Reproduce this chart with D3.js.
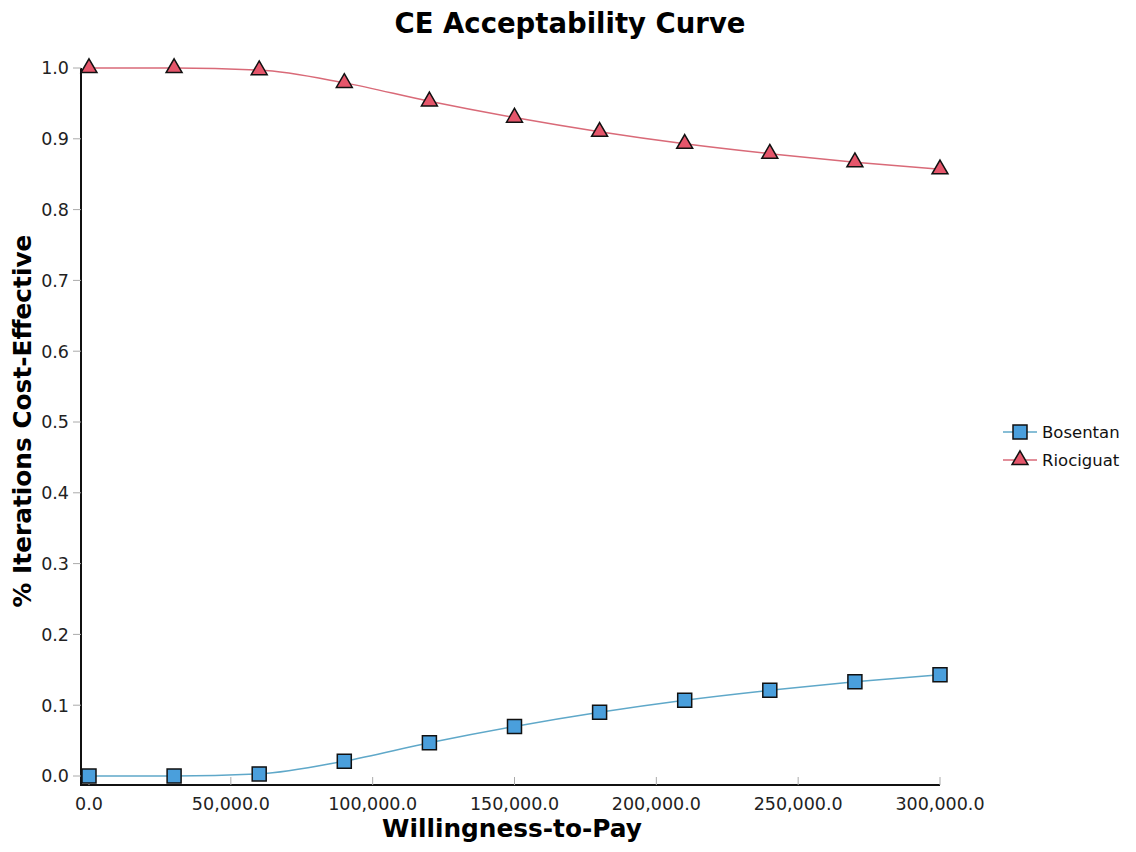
<!DOCTYPE html>
<html><head><meta charset="utf-8">
<script src="https://cdn.jsdelivr.net/npm/d3@7"></script>
<style>body{margin:0;background:#fff}</style>
</head><body>
<svg id="c" width="1136" height="852"></svg>
<script>
const wtp = [0,30000,60000,90000,120000,150000,180000,210000,240000,270000,300000];
const bosentan = [0,0,0.003,0.021,0.047,0.070,0.090,0.107,0.121,0.133,0.143];
const riociguat = [1,1,0.997,0.979,0.953,0.930,0.910,0.893,0.879,0.867,0.857];
const xTicks = [0,50000,100000,150000,200000,250000,300000];
const yTicks = [0,0.1,0.2,0.3,0.4,0.5,0.6,0.7,0.8,0.9,1.0];
const seriesNames = ["Bosentan","Riociguat"];

const svg = d3.select("#c");
const font = "'DejaVu Sans', Verdana, sans-serif";
const x = d3.scaleLinear().domain([0,300000]).range([89,940]);
const y = d3.scaleLinear().domain([0,1]).range([776,68]);

// axes lines
svg.append("line").attr("x1",81).attr("x2",81).attr("y1",68).attr("y2",786).attr("stroke","#111").attr("stroke-width",2);
svg.append("line").attr("x1",80).attr("x2",940).attr("y1",785).attr("y2",785).attr("stroke","#111").attr("stroke-width",2);

// y ticks
const yg = svg.append("g");
yTicks.forEach(t=>{
  yg.append("line").attr("x1",73).attr("x2",81).attr("y1",y(t)).attr("y2",y(t)).attr("stroke","#aaa").attr("stroke-width",1);
  yg.append("text").attr("x",69).attr("y",y(t)).attr("dy","0.36em").attr("text-anchor","end")
    .attr("font-family",font).attr("font-size",17.5).attr("fill","#222").text(d3.format(".1f")(t));
});
// x ticks
const xg = svg.append("g");
xTicks.forEach(t=>{
  xg.append("line").attr("x1",x(t)).attr("x2",x(t)).attr("y1",777).attr("y2",785).attr("stroke","#aaa").attr("stroke-width",1);
  xg.append("text").attr("x",x(t)).attr("y",810).attr("text-anchor","middle")
    .attr("font-family",font).attr("font-size",17.5).attr("fill","#222").text(d3.format(",.1f")(t));
});

// titles
svg.append("text").attr("x",570).attr("y",33).attr("text-anchor","middle").attr("font-family",font)
  .attr("font-size",27.5).attr("font-weight","bold").text("CE Acceptability Curve");
svg.append("text").attr("x",512).attr("y",837).attr("text-anchor","middle").attr("font-family",font)
  .attr("font-size",24.8).attr("font-weight","bold").text("Willingness-to-Pay");
svg.append("text").attr("transform","translate(31,421) rotate(-90)").attr("text-anchor","middle").attr("font-family",font)
  .attr("font-size",24.8).attr("font-weight","bold").text("% Iterations Cost-Effective");

const line = d3.line().x(d=>x(d[0])).y(d=>y(d[1])).curve(d3.curveMonotoneX);
const bData = wtp.map((w,i)=>[w,bosentan[i]]);
const rData = wtp.map((w,i)=>[w,riociguat[i]]);
const bLine = "#5fa8c9", rLine = "#d96a78", bFill = "#4a9fdc", rFill = "#e5566b";

svg.append("path").attr("d",line(bData)).attr("fill","none").attr("stroke",bLine).attr("stroke-width",1.5);
svg.append("path").attr("d",line(rData)).attr("fill","none").attr("stroke",rLine).attr("stroke-width",1.5);

const sq = d3.symbol().type(d3.symbolSquare).size(196);
const tri = d3.symbol().type(d3.symbolTriangle).size(110);
svg.append("g").selectAll("path").data(bData).join("path")
  .attr("d",sq).attr("transform",d=>`translate(${x(d[0])},${y(d[1])})`)
  .attr("fill",bFill).attr("stroke","#111").attr("stroke-width",1.5);
svg.append("g").selectAll("path").data(rData).join("path")
  .attr("d",tri).attr("transform",d=>`translate(${x(d[0])},${y(d[1])})`)
  .attr("fill",rFill).attr("stroke","#111").attr("stroke-width",1.5);

// legend
const lg = svg.append("g");
[[bLine,bFill,sq],[rLine,rFill,tri]].forEach((s,i)=>{
  const ly = 432 + i*28;
  lg.append("line").attr("x1",1003).attr("x2",1037).attr("y1",ly).attr("y2",ly).attr("stroke",s[0]).attr("stroke-width",1.5);
  lg.append("path").attr("d",s[2]).attr("transform",`translate(1020,${ly})`).attr("fill",s[1]).attr("stroke","#111").attr("stroke-width",1.5);
  lg.append("text").attr("x",1042).attr("y",ly).attr("dy","0.36em").attr("font-family",font).attr("font-size",16.5).attr("fill","#111").text(seriesNames[i]);
});
</script>
</body></html>
